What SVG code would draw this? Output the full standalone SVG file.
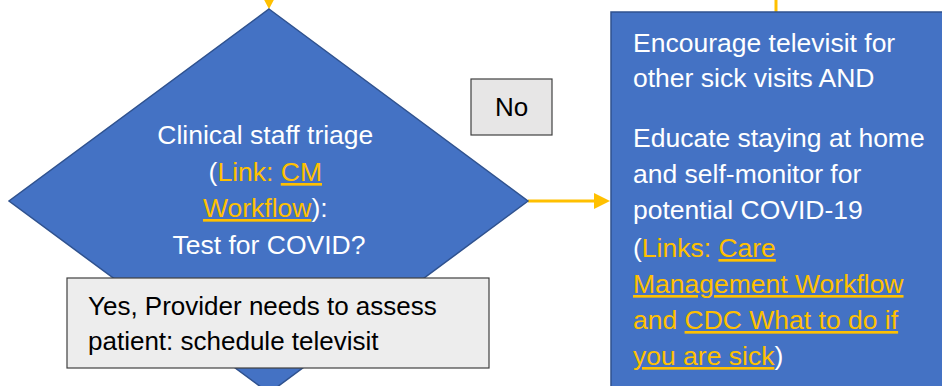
<svg xmlns="http://www.w3.org/2000/svg" width="942" height="386" viewBox="0 0 942 386">
  <style>
    .shape { fill: #4472C4; stroke: #2F528F; stroke-width: 1.5; }
    .label { fill: #E7E6E6; stroke: #404040; stroke-width: 1.2; }
    .wt { font-family: "Liberation Sans", Arial, sans-serif; font-size: 26.5px; fill: #FFFFFF; }
    .bt { font-family: "Liberation Sans", Arial, sans-serif; font-size: 26px; fill: #000000; }
    .lk { fill: #FFC000; }
    .ul { fill: #FFC000; text-decoration: underline; }
    .conn { stroke: #FFC000; stroke-width: 3; fill: none; }
    .head { fill: #FFC000; }
  </style>

  <g id="connectors">
    <polygon class="head" points="261,-6 277,-6 269,9"/>
    <line class="conn" x1="776" y1="0" x2="776" y2="12"/>
    <line class="conn" x1="528" y1="201" x2="596" y2="201"/>
    <polygon class="head" points="594,193 610,201 594,209"/>
  </g>

  <g id="triage">
    <polygon class="shape" points="269,9 528,201 269,393 9,201"/>
    <text class="wt" text-anchor="middle">
      <tspan x="269" y="144">Clinical staff triage</tspan>
      <tspan x="269" y="181">(<tspan class="lk">Link: </tspan><tspan class="ul">CM</tspan></tspan>
      <tspan x="269" y="217"><tspan class="ul">Workflow</tspan>):</tspan>
      <tspan x="269" y="254">Test for COVID?</tspan>
    </text>
  </g>

  <g id="advice">
    <rect class="shape" x="611" y="12" width="345" height="400"/>
    <text class="wt">
      <tspan x="633" y="52">Encourage televisit for</tspan>
      <tspan x="633" y="87">other sick visits AND</tspan>
      <tspan x="633" y="147">Educate staying at home</tspan>
      <tspan x="633" y="183">and self-monitor for</tspan>
      <tspan x="633" y="219">potential COVID-19</tspan>
      <tspan x="633" y="257">(<tspan class="lk">Links: </tspan><tspan class="ul">Care</tspan></tspan>
      <tspan x="633" y="293" class="ul">Management Workflow</tspan>
      <tspan x="633" y="329"><tspan class="lk">and </tspan><tspan class="ul">CDC What to do if</tspan></tspan>
      <tspan x="633" y="365"><tspan class="ul">you are sick</tspan>)</tspan>
    </text>
  </g>

  <g id="no-label">
    <rect class="label" x="471" y="79" width="81" height="56"/>
    <text class="bt" x="511.5" y="116" text-anchor="middle">No</text>
  </g>

  <g id="yes-label">
    <rect class="label" x="67" y="278" width="422" height="90" style="fill:#EDEDED"/>
    <text class="bt">
      <tspan x="88" y="315">Yes, Provider needs to assess</tspan>
      <tspan x="88" y="350">patient: schedule televisit</tspan>
    </text>
  </g>
</svg>
